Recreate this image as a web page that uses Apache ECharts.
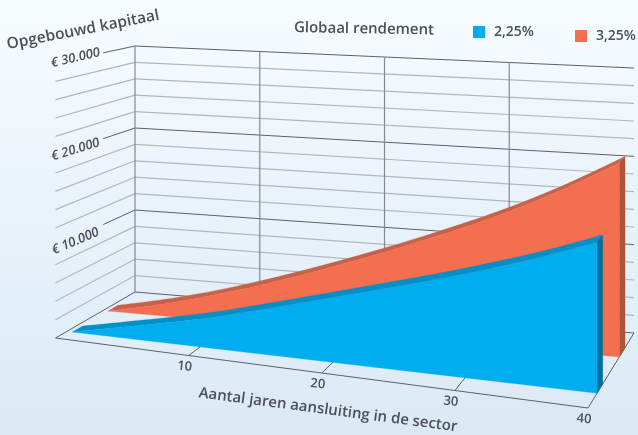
<!DOCTYPE html>
<html><head><meta charset="utf-8">
<style>html,body{margin:0;padding:0;background:#eaf3fb}#c{width:638px;height:435px}</style>
<script src="https://cdn.jsdelivr.net/npm/echarts@6/dist/echarts.min.js"></script>
</head><body><div id="c"></div>
<script>
// --- data ---
const years      = [0.4, 5, 10, 15, 20, 25, 30, 35, 40];
const values225  = [0, 1440, 3060, 4990, 6980, 8940, 10960, 13160, 15630];
const values325  = [0, 1520, 3580, 5950, 8510, 11240, 14140, 17430, 21160];
const valueTicks = [0,2000,4000,6000,8000,10000,12000,14000,16000,18000,20000,22000,24000,26000,28000,30000];
const valueLabels = {10000:'€ 10.000', 20000:'€ 20.000', 30000:'€ 30.000'};
const yearTicks  = [10, 20, 30, 40];
const yearLabels = ['10', '20', '30', '40'];
const seriesNames = ['2,25%', '3,25%'];

// --- perspective of the 3D box ---
const FONT = '"Open Sans", sans-serif', INK = '#4b5056';
const floorBox = {fl:[55.5,338], fr:[588,408], bl:[135,292], br:[634,333]};
const wallH = {fl:275, fr:296, bl:246, br:265};
const lerp = (a,b,t)=>a+(b-a)*t;
// depth: 0 = front edge of floor, 1 = back wall
function warp(api, cs, year, value, depth){
  const p = api.coord([year, value]);
  const u = (p[0]-cs.x)/cs.width, v = (cs.y+cs.height-p[1])/cs.height;
  const fx = lerp(floorBox.fl[0], floorBox.fr[0], u), fy = lerp(floorBox.fl[1], floorBox.fr[1], u);
  const bx = lerp(floorBox.bl[0], floorBox.br[0], u), by = lerp(floorBox.bl[1], floorBox.br[1], u);
  const h = lerp(lerp(wallH.fl, wallH.fr, u), lerp(wallH.bl, wallH.br, u), depth);
  return [lerp(fx,bx,depth), lerp(fy,by,depth) - v*h];
}
const ln = (a,b,color,w)=>({type:'line',shape:{x1:a[0],y1:a[1],x2:b[0],y2:b[1]},style:{stroke:color,lineWidth:w},silent:true});
const txt = (p,text,rotDeg,size,extra)=>({type:'text',x:p[0],y:p[1],rotation:rotDeg*Math.PI/180,
  style:Object.assign({text,fontSize:size,fontFamily:FONT,fontWeight:600,fill:INK,align:'center',verticalAlign:'middle'},extra||{}),silent:true});

function renderFrame(params, api){
  const cs = params.coordSys, W=(y,v,d)=>warp(api,cs,y,v,d), ch=[];
  const dark='#5d6167', mid='#85898e', light='#b3b7bc';
  valueTicks.forEach(v=>{
    const major = v%10000===0;
    const c = major?dark:light, w = major?1:1.2;
    if(v>0){
      const start = valueLabels[v]?0.6:0;
      ch.push(ln(W(0,v,start),W(0,v,1),major?dark:light,w));
    }
    ch.push(ln(W(0,v,1),W(40,v,1),c,w));
  });
  [0,10,20,30].forEach(y=>ch.push(ln(W(y,0,1),W(y,30000,1),mid,1.2)));
  [0,10,20,30,40].forEach(y=>ch.push(ln(W(y,0,0),W(y,0,1),dark,1)));
  ch.push(ln(W(0,0,0),W(40,0,0),dark,1));
  const rot = {10000:23, 20000:17, 30000:13};
  Object.keys(valueLabels).forEach(k=>{
    const p = W(0,+k,0);
    ch.push(txt([p[0]+20,p[1]-5],valueLabels[k],rot[k],13,{fontStyle:'italic'}));
  });
  yearTicks.forEach((y,i)=>{
    const p = W(y,0,0);
    ch.push(txt([p[0]-4,p[1]+11],yearLabels[i],-5,13));
  });
  return {type:'group',children:ch};
}

// smooth curve through points, written as cubic path commands
function curveCmds(pts){
  let s='';
  for(let i=0;i<pts.length-1;i++){
    const p0=pts[Math.max(i-1,0)],p1=pts[i],p2=pts[i+1],p3=pts[Math.min(i+2,pts.length-1)];
    const c1=[p1[0]+(p2[0]-p0[0])/6,p1[1]+(p2[1]-p0[1])/6],c2=[p2[0]-(p3[0]-p1[0])/6,p2[1]-(p3[1]-p1[1])/6];
    s+=` C ${c1[0]} ${c1[1]} ${c2[0]} ${c2[1]} ${p2[0]} ${p2[1]}`;
  }
  return s;
}
function renderArea(values, depths, colors){
  return function(params, api){
    if(params.dataIndex!==0) return null;
    const cs = params.coordSys;
    const d = y=>lerp(depths[0],depths[1],y/40);
    const front = years.map((y,i)=>warp(api,cs,y,values[i],d(y)));
    const back  = years.map((y,i)=>warp(api,cs,y,values[i],d(y)+depths[2]));
    const last = years.length-1;
    const base  = [warp(api,cs,years[last],0,d(40)), warp(api,cs,years[0],0,d(years[0]))];
    const sideBottom = warp(api,cs,years[last],0,d(40)+depths[2]);
    const mv = p=>`M ${p[0]} ${p[1]}`, lt = p=>` L ${p[0]} ${p[1]}`;
    const path=(pd,c)=>({type:'path',shape:{pathData:pd},style:{fill:c,stroke:c,lineWidth:0.3},silent:true});
    return {type:'group',children:[
      path(mv(back[0])+curveCmds(back)+lt(front[last])+curveCmds(front.slice().reverse())+' Z',colors[1]),
      path(mv(base[0])+lt(front[last])+lt(back[last])+lt(sideBottom)+' Z',colors[2]),
      path(mv(front[0])+curveCmds(front)+lt(base[0])+lt(base[1])+' Z',colors[0])
    ]};
  };
}

const chart = echarts.init(document.getElementById('c'),null,{renderer:'canvas'});
const pair = (vals)=>years.map((y,i)=>[y,vals[i]]);
const legendText = {color:INK,fontFamily:FONT,fontSize:14,fontWeight:600,padding:[0,0,0,4]};
chart.setOption({
  animation:false,
  backgroundColor:new echarts.graphic.LinearGradient(0,0,0,1,[{offset:0,color:'#f8fcff'},{offset:0.5,color:'#e8f2fa'},{offset:1,color:'#dbe9f5'}]),
  grid:{left:135,width:499,top:46,height:246},
  xAxis:{type:'value',min:0,max:40,show:false},
  yAxis:{type:'value',min:0,max:30000,show:false},
  legend:[
    {data:[seriesNames[0]],left:468,top:20,itemWidth:12,itemHeight:12,icon:'rect',textStyle:legendText,selectedMode:false},
    {data:[seriesNames[1]],left:570,top:24,itemWidth:12,itemHeight:12,icon:'rect',textStyle:legendText,selectedMode:false}
  ],
  series:[
    {type:'custom',name:'frame',coordinateSystem:'cartesian2d',z:1,data:[[0,0]],renderItem:renderFrame,silent:true,clip:false},
    {type:'custom',name:seriesNames[1],coordinateSystem:'cartesian2d',z:2,data:pair(values325),itemStyle:{color:'#f46f50'},silent:true,clip:false,
     renderItem:renderArea(values325,[0.596,0.68,0.125],['#f46f50','#c9604a','#b0533c'])},
    {type:'custom',name:seriesNames[0],coordinateSystem:'cartesian2d',z:3,data:pair(values225),itemStyle:{color:'#00aeef'},silent:true,clip:false,
     renderItem:renderArea(values225,[0.145,0.196,0.125],['#00aeef','#008fc9','#00709b'])}
  ],
  graphic:[
    {type:'text',x:83,y:30,rotation:11*Math.PI/180,style:{text:'Opgebouwd kapitaal',fontSize:15.5,fontFamily:FONT,fontWeight:600,fill:INK,align:'center',verticalAlign:'middle'}},
    {type:'text',x:364,y:29,rotation:-1*Math.PI/180,style:{text:'Globaal rendement',fontSize:15,fontFamily:FONT,fontWeight:600,fill:INK,align:'center',verticalAlign:'middle'}},
    {type:'text',x:328,y:410,rotation:-7.5*Math.PI/180,style:{text:'Aantal jaren aansluiting in de sector',fontSize:15,fontFamily:FONT,fontWeight:600,fill:INK,align:'center',verticalAlign:'middle'}}
  ]
});
</script></body></html>
